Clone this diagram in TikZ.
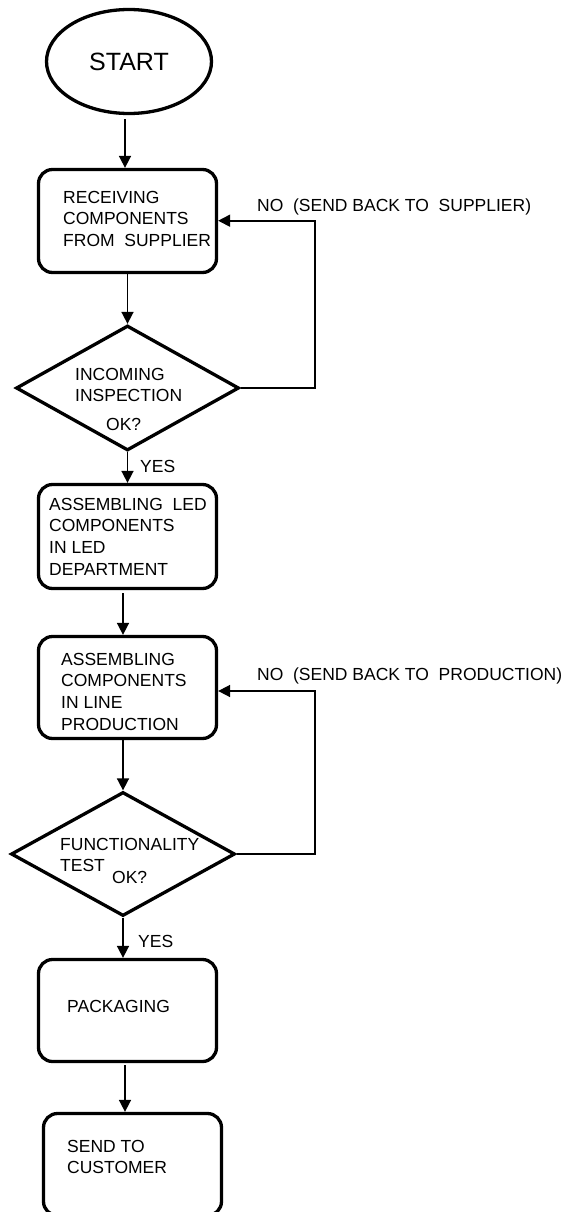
\documentclass[tikz,border=0pt]{standalone}
\usepackage{fontspec}
\setmainfont{Liberation Sans}
\usetikzlibrary{arrows.meta,shapes.geometric}
\begin{document}
\begin{tikzpicture}[x=1pt,y=-1pt,
  box/.style={draw,line width=3.3pt,rounded corners=14pt,minimum width=178pt,inner sep=0pt},
  dia/.style={draw,diamond,line width=3.3pt,inner sep=0pt},
  txt/.style={anchor=base west,align=left,inner sep=0pt,font=\fontsize{17.5}{21.7}\selectfont},
  arr/.style={line width=1.7pt,-{Triangle[length=12pt,width=12pt]}}]
\useasboundingbox (0,0) rectangle (560,1212);

% shapes
\node[draw,ellipse,line width=3.3pt,minimum width=165pt,minimum height=104pt,inner sep=0pt,
      font=\fontsize{25}{30}\selectfont] (start) at (129,61.5) {START\hspace{6pt}};
\node[box,minimum height=103pt] (b1) at (127.5,221) {};
\node[dia,minimum width=223pt,minimum height=125pt] (d1) at (127.5,388) {};
\node[box,minimum height=104pt] (b2) at (127.5,536.5) {};
\node[box,minimum height=102pt] (b3) at (127.5,687.5) {};
\node[dia,minimum width=224pt,minimum height=124pt] (d2) at (123,854) {};
\node[box,minimum height=102pt] (b4) at (127.5,1010.5) {};
\node[box,minimum height=102pt] (b5) at (132.5,1164.5) {};

% texts (base anchor = baseline of the last line)
\node[txt] (t1) at (63,246.4) {RECEIVING\\COMPONENTS\\FROM\ \ SUPPLIER};
\node[txt] (t2) at (75,401.7) {INCOMING\\INSPECTION};
\node[txt] (t2b) at (106,430) {OK?};
\node[txt] (t3) at (49,575.1) {ASSEMBLING\ \ LED\\COMPONENTS\\IN LED\\DEPARTMENT};
\node[txt] (t4) at (61,730.1) {ASSEMBLING\\COMPONENTS\\IN LINE\\PRODUCTION};
\node[txt] (t5) at (60,871.7) {FUNCTIONALITY\\TEST};
\node[txt] (t5b) at (112,883) {OK?};
\node[txt] (t6) at (67,1012) {PACKAGING};
\node[txt] (t7) at (67,1173.7) {SEND TO\\CUSTOMER};

% labels
\node[txt] (no1) at (257,211) {NO\ \ (SEND BACK TO\ \ SUPPLIER)};
\node[txt] (no2) at (257,680) {NO\ \ (SEND BACK TO\ \ PRODUCTION)};
\node[txt] (y1) at (140,472) {YES};
\node[txt] (y2) at (138,947) {YES};

% connectors
\draw[arr,shorten <=4pt] ([xshift=-4pt]start.south) -- ([xshift=-2.5pt]b1.north);
\draw[arr] (b1.south) -- (d1.north);
\draw[arr] (d1.south) -- (b2.north);
\draw[arr,shorten <=3pt] ([xshift=-4.5pt]b2.south) -- ([xshift=-4.5pt]b3.north);
\draw[arr] ([xshift=-4.5pt]b3.south) -- (d2.north);
\draw[arr] (d2.south) -- (d2.south |- b4.north);
\draw[arr,shorten <=2pt] ([xshift=-2.5pt]b4.south) -- ([xshift=-7.5pt]b5.north);

\coordinate (k1) at (315,220.7);
\draw[arr] (d1.east) -| (k1) -- (k1 -| b1.east);
\coordinate (k2) at (315,691);
\draw[arr] (d2.east) -| (k2) -- (k2 -| b3.east);
\end{tikzpicture}
\end{document}
